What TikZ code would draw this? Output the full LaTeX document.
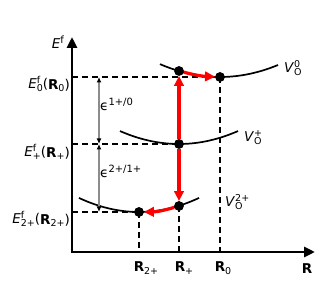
\documentclass[tikz,border=0pt]{standalone}
\usepackage{fontspec}
\setmainfont{DejaVu Sans}
\usetikzlibrary{arrows.meta}
\newsavebox\sbA
\newsavebox\sbB
\newdimen\sbw
\newcommand{\SbSp}[2]{\sbox\sbA{\fontsize{9.5bp}{9.5bp}\selectfont #1}\sbox\sbB{\fontsize{9.5bp}{9.5bp}\selectfont #2}\sbw=\wd\sbA \ifdim\wd\sbB>\sbw \sbw=\wd\sbB \fi\makebox[\sbw][l]{\rlap{\raisebox{-3bp}{\usebox\sbA}}\raisebox{6bp}{\usebox\sbB}}}
\newcommand{\Sp}[1]{\raisebox{6bp}{\fontsize{10bp}{10bp}\selectfont #1}}
\newcommand{\Sb}[1]{\raisebox{-3bp}{\fontsize{9.5bp}{9.5bp}\selectfont #1}}
\begin{document}
\begin{tikzpicture}[x=1bp,y=1bp,font=\fontsize{13.5bp}{15bp}\selectfont,
  axisline/.style={line width=2.8bp,{Triangle[length=11bp,width=10bp]}-{Triangle[length=11bp,width=10bp]}},
  dline/.style={dash pattern=on 6bp off 4bp,line width=1.8bp},
  curveline/.style={line width=1.7bp},
  dot/.style={circle,fill=black,minimum size=9.5bp,inner sep=0pt},
  redarr/.style={red,line width=3.2bp,-{Triangle[length=10bp,width=9.5bp]}},
  garr/.style={black!45,line width=1.6bp,{Latex[black,length=5.5bp,width=5bp]}-{Latex[black,length=5.5bp,width=5bp]}},
  lbl/.style={inner sep=0pt}]
\useasboundingbox (0,0) rectangle (328,303);
% axes
\coordinate (ytip) at (72,266);
\coordinate (xtip) at (315,51);
\draw[axisline] (ytip) |- (xtip);
% curves
\draw[curveline] plot[domain=160:278,smooth,samples=40] (\x,{226+0.00357*(\x-220)^2});
\draw[curveline] plot[domain=120:238,smooth,samples=40] (\x,{159+0.00373*(\x-179)^2});
\draw[curveline] plot[domain=79:199,smooth,samples=40] (\x,{91+0.0039*(\x-139)^2});
% dots
\node[dot] (A0) at (220,226) {};
\node[dot] (T) at (179,232) {};
\node[dot] (Pm) at (179,159) {};
\node[dot] (B) at (179,97) {};
\node[dot] (C) at (139,91) {};
% axis coordinates
\coordinate (e0) at (72,226);
\coordinate (ep) at (72,159);
\coordinate (e2) at (72,91);
\coordinate (r0) at (220,51);
\coordinate (rp) at (179,51);
\coordinate (r2) at (139,51);
% dashed guides
\draw[dline] (e0) -- (A0.center);
\draw[dline] (ep) -- (Pm.center);
\draw[dline] (e2) -- (C.center);
\draw[dline] (A0.center) -- (r0);
\draw[dline] (B.center) -- (rp);
\draw[dline] (C.center) -- (r2);
% gray arrows
\coordinate (g0) at (99,226);
\coordinate (gp) at (99,159);
\coordinate (g2) at (99,91);
\draw[garr] (g0) -- (gp);
\draw[garr] (gp) -- (g2);
% red arrows
\draw[redarr] (Pm) -- (T);
\draw[redarr] (Pm) -- (B);
\draw[redarr] (T) to[bend right=6] (A0);
\draw[redarr] (B) to[bend left=8] (C);
% redraw dots on top
\foreach \p in {A0,T,Pm,B,C} \fill (\p.center) circle (4.75bp);
% labels
\node[lbl,anchor=base east] (lEf) at (64,254) {\textit{E}\Sp{f}};
\node[lbl,anchor=base east] (lE0) at (70,214) {\textit{E}\SbSp{0}{f}(\textbf{R}\Sb{0})};
\node[lbl,anchor=base east] (lEp) at (70,146) {\textit{E}\SbSp{+}{f}(\textbf{R}\Sb{+})};
\node[lbl,anchor=base east] (lE2) at (70,79) {\textit{E}\SbSp{2+}{f}(\textbf{R}\Sb{2+})};
\node[lbl,anchor=base west] (le1) at (100,192) {ϵ\Sp{1+/0}};
\node[lbl,anchor=base west] (le2) at (100,125) {ϵ\Sp{2+/1+}};
\node[lbl,anchor=base west] (lV0) at (284,230) {\textit{V}\SbSp{O}{0}};
\node[lbl,anchor=base west] (lVp) at (244,161) {\textit{V}\SbSp{O}{+}};
\node[lbl,anchor=base west] (lV2) at (225,96) {\textit{V}\SbSp{O}{2+}};
\node[lbl,anchor=base] (lR2) at (139,31) {\textbf{R}\rlap{\Sb{2+}}};
\node[lbl,anchor=base] (lRp) at (180,31) {\textbf{R}\rlap{\Sb{+}}};
\node[lbl,anchor=base] (lR0) at (220,31) {\textbf{R}\rlap{\Sb{0}}};
\node[lbl,anchor=base] (lR) at (307,29) {\textbf{R}};
\end{tikzpicture}
\end{document}
